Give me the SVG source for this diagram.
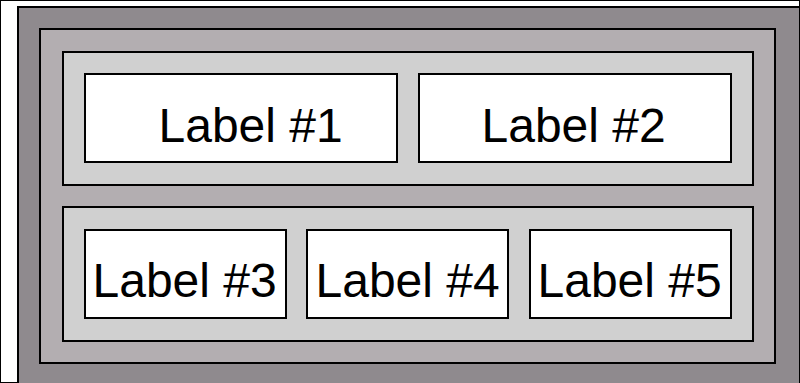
<svg xmlns="http://www.w3.org/2000/svg" width="800" height="383" viewBox="0 0 800 383">
<style>
rect{stroke:#000;stroke-width:2}
.l0{fill:#8f8a8e}
.l1{fill:#b3aeb1}
.l2{fill:#d0d0d0}
.box{fill:#fff}
text{font-family:"Liberation Sans",Arial,sans-serif;font-size:48px;fill:#000}
</style>
<rect width="800" height="383" fill="#fff" stroke="none"/>
<g id="outer"><rect class="l0" x="18" y="7" width="782" height="390"/></g>
<g id="inner"><rect class="l1" x="40" y="29" width="735" height="334"/></g>
<g id="row1"><rect class="l2" x="63" y="52" width="690" height="133"/></g>
<g id="row2"><rect class="l2" x="63" y="207" width="690" height="134"/></g>
<g id="n1"><rect class="box" x="85" y="74" width="312" height="88"/><text x="158.5" y="142">Label #1</text></g>
<g id="n2"><rect class="box" x="419" y="74" width="312" height="88"/><text x="481.5" y="142">Label #2</text></g>
<g id="n3"><rect class="box" x="85" y="230" width="201" height="88"/><text x="92.5" y="297">Label #3</text></g>
<g id="n4"><rect class="box" x="307" y="230" width="201" height="88"/><text x="315.5" y="297">Label #4</text></g>
<g id="n5"><rect class="box" x="530" y="230" width="201" height="88"/><text x="537.5" y="297">Label #5</text></g>
<g id="connectors"></g>
</svg>
